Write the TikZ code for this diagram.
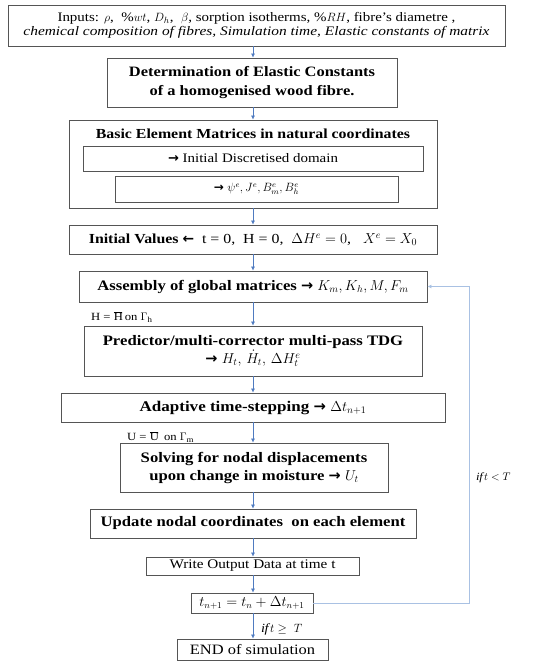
\documentclass[tikz,border=0pt]{standalone}
\usepackage{amsmath,amssymb}
\usepackage{fontspec}
\setmainfont{Liberation Serif}[FakeStretch=1.15]
\newfontfamily\arrfont{DejaVu Sans}
\usepackage{graphicx}
\usetikzlibrary{arrows.meta}
\definecolor{boxgray}{HTML}{555555}
\definecolor{arrblue}{HTML}{4F7BC0}
\definecolor{loopblue}{HTML}{A9C1E3}
\newcommand{\ra}{{\arrfont\bfseries →}}
\newcommand{\la}{{\arrfont\bfseries ←}}
\begin{document}
\begin{tikzpicture}[x=1pt,y=-1pt,
  box/.style={draw=boxgray, line width=0.9pt, rectangle, inner sep=0pt, align=center},
  arr/.style={draw=arrblue, line width=0.6pt, -{Latex[length=4pt,width=4pt]}},
  loopline/.style={draw=loopblue, line width=0.9pt, -{Latex[length=4pt,width=4pt]}},
  lbl/.style={inner sep=0pt, anchor=west}]
\useasboundingbox[fill=white] (0,0) rectangle (543,663);
\coordinate (ax) at (253,0);
\coordinate (lp) at (469,0);
\node[box, minimum width=497, minimum height=41, font=\fontsize{13}{14.5}\selectfont] (in) at (256.5,25.5)
  {Inputs: $\rho$,\ \ \%$wt$, $D_h$,\ \ $\beta$, sorption isotherms, \%$RH$, fibre's diametre ,\\
   \scalebox{1.03}[1]{\textit{chemical composition of fibres, Simulation time, Elastic constants of matrix}}};
\node[box, minimum width=290, minimum height=49, font=\fontsize{14.3}{19}\selectfont\bfseries] (det) at (252,82.5)
  {Determination of Elastic Constants\\ of a homogenised wood fibre.};
\node[box, minimum width=368, minimum height=88] (bas) at (253,164) {};
\node[inner sep=0pt, font=\fontsize{13.8}{15}\selectfont\bfseries] (bast) at (253,134) {Basic Element Matrices in natural coordinates};
\node[box, minimum width=340, minimum height=25, font=\fontsize{13}{14}\selectfont] (b1) at (253,158.5) {\ra\ Initial Discretised domain};
\node[box, minimum width=283, minimum height=26, font=\fontsize{12}{14}\selectfont] (b2) at (256.5,189) {\ra\ $\psi^e, J^e, B_m^e, B_h^e$};
\node[box, minimum width=368, minimum height=29, font=\fontsize{13.8}{15}\selectfont] (iv) at (253,239.5)
  {\textbf{Initial Values} \la\ \ t = 0,\ \ H = 0,\ \ $\Delta H^e = 0$,\ \ \ $X^e = X_0$};
\node[box, minimum width=348, minimum height=31, font=\fontsize{14.5}{16}\selectfont] (as) at (253,286.5)
  {\textbf{Assembly of global matrices} \ra\ $K_m, K_h, M, F_m$};
\node[box, minimum width=338, minimum height=50, font=\fontsize{14.5}{18}\selectfont] (pr) at (253,351)
  {\textbf{Predictor/multi-corrector multi-pass TDG}\\ \ra\ $H_t,\,\dot{H}_t,\,\Delta H_t^e$};
\node[box, minimum width=384, minimum height=29, font=\fontsize{14.8}{16}\selectfont] (ad) at (253,407.5)
  {\textbf{Adaptive time-stepping} \ra\ $\Delta t_{n+1}$};
\node[box, minimum width=268, minimum height=49, font=\fontsize{14.5}{18}\selectfont] (so) at (254,467.5)
  {\textbf{Solving for nodal displacements}\\ \textbf{upon change in moisture} \ra\ $U_t$};
\node[box, minimum width=326, minimum height=29, font=\fontsize{14.5}{16}\selectfont\bfseries] (up) at (253,523.5)
  {Update nodal coordinates\ \ on each element};
\node[box, minimum width=213, minimum height=18, font=\fontsize{13.2}{14}\selectfont] (wr) at (252.5,566)
  {Write Output Data at time t};
\node[box, minimum width=122, minimum height=20, font=\fontsize{13.5}{15}\selectfont] (tn) at (252,603)
  {$t_{n+1} = t_n + \Delta t_{n+1}$};
\node[box, minimum width=151, minimum height=21, font=\fontsize{14.3}{15}\selectfont] (en) at (252.5,649.5)
  {END of simulation};
\node[lbl, font=\fontsize{11}{12}\selectfont] (hl) at (91,317) {H = $\overline{\mathrm{H}}$ on $\Gamma_{\mathrm{h}}$};
\node[lbl, font=\fontsize{11}{12}\selectfont] (ul) at (127,437) {U = $\overline{\mathrm{U}}$\ \ on $\Gamma_{\mathrm{m}}$};
\node[lbl, font=\fontsize{11}{13}\selectfont] (lt) at (476,478) {$\mathit{if}\,t < T$};
\node[lbl, font=\fontsize{12.5}{13}\selectfont] (ge) at (261,629) {$\mathit{if}\,t \geq\ T$};
\draw[arr] (in.south -| ax) -- (det.north -| ax);
\draw[arr] (det.south -| ax) -- (bas.north -| ax);
\draw[arr] (bas.south -| ax) -- (iv.north -| ax);
\draw[arr] (iv.south -| ax) -- (as.north -| ax);
\draw[arr] (as.south -| ax) -- (pr.north -| ax);
\draw[arr] (pr.south -| ax) -- (ad.north -| ax);
\draw[arr] (ad.south -| ax) -- (so.north -| ax);
\draw[arr] (so.south -| ax) -- (up.north -| ax);
\draw[arr] (up.south -| ax) -- (wr.north -| ax);
\draw[arr] (wr.south -| ax) -- (tn.north -| ax);
\draw[arr] (tn.south -| ax) -- (en.north -| ax);
\draw[loopline] (tn.east) -- (tn.east -| lp) |- (as.east);
\end{tikzpicture}
\end{document}
